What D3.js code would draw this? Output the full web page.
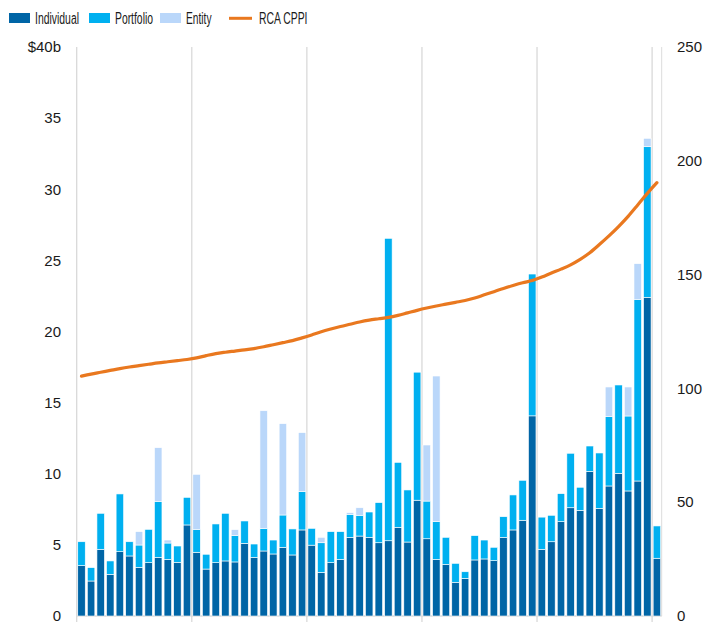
<!DOCTYPE html>
<html>
<head>
<meta charset="utf-8">
<script src="https://cdn.jsdelivr.net/npm/d3@7"></script>
<style>
  body { margin: 0; background: #fff; }
  text { font-family: "Liberation Sans", Arial, sans-serif; fill: #1a1a1a; }
</style>
</head>
<body>
<script>
// monthly deal volume, $b
var months = d3.timeMonths(new Date(2017, 0, 1), new Date(2022, 1, 1)).map(d3.timeFormat('%Y-%m'));

var individual = [3.54, 2.46, 4.69, 2.93, 4.52, 4.22, 3.42, 3.75, 4.12, 3.98, 3.77, 6.40,
                  4.48, 3.30, 3.75, 3.87, 3.80, 5.11, 4.12, 4.57, 4.36, 4.83, 4.29, 6.05,
                  4.98, 3.07, 3.75, 3.98, 5.53, 5.62, 5.53, 5.15, 5.29, 6.23, 5.20, 8.14,
                  5.43, 3.98, 3.63, 2.37, 2.65, 3.94, 4.01, 3.89, 5.53, 6.05, 6.73, 14.07,
                  4.69, 5.22, 6.63, 7.61, 7.43, 10.17, 7.57, 9.14, 10.03, 8.79, 9.49, 22.40,
                  4.06];
var portfolio = [1.68, 0.94, 2.53, 0.94, 4.06, 1.00, 1.57, 2.34, 3.94, 1.15, 1.15, 1.94,
                 1.61, 1.04, 2.72, 3.35, 1.85, 1.57, 0.94, 1.59, 0.98, 2.27, 1.83, 2.70,
                 1.18, 2.08, 2.18, 1.95, 1.62, 1.46, 1.78, 2.82, 21.26, 4.57, 3.66, 9.00,
                 2.65, 2.65, 1.90, 1.33, 0.46, 1.71, 1.33, 0.94, 1.45, 2.46, 2.81, 9.97,
                 2.26, 1.86, 1.97, 3.83, 1.62, 1.78, 3.89, 4.87, 6.21, 5.27, 12.77, 10.59,
                 2.27];
var entity = [0, 0, 0, 0, 0, 0, 0.94, 0, 3.77, 0.21, 0, 0,
              3.87, 0, 0, 0, 0.42, 0, 0, 8.27, 0, 6.42, 0, 4.14,
              0, 0.38, 0, 0, 0.11, 0.53, 0, 0, 0, 0, 0, 0,
              3.94, 10.24, 0, 0, 0, 0, 0, 0, 0, 0, 0, 0,
              0, 0, 0, 0, 0, 0, 0, 2.09, 0, 2.04, 2.51, 0.59,
              0];
// RCA CPPI index (right axis)
var cppi = [105.4, 106.3, 107.1, 107.9, 108.7, 109.4, 110.0, 110.6, 111.2, 111.7, 112.2, 112.7,
            113.4, 114.4, 115.3, 115.9, 116.4, 116.9, 117.5, 118.3, 119.2, 120.1, 121.0, 122.2,
            123.5, 124.9, 126.1, 127.2, 128.2, 129.2, 130.0, 130.6, 131.2, 132.1, 133.2, 134.3,
            135.3, 136.2, 137.0, 137.8, 138.6, 139.7, 141.1, 142.5, 143.9, 145.2, 146.4, 147.4,
            148.9, 150.7, 152.4, 154.3, 156.7, 159.6, 163.2, 167.0, 171.1, 175.6, 180.6, 185.7,
            190.4];

var seriesKeys = ['Individual', 'Portfolio', 'Entity'];
var colors = { Individual: '#0065a6', Portfolio: '#00b0f0', Entity: '#bad7fa' };
var lineColor = '#e9781f';

var leftTicks = [0, 5, 10, 15, 20, 25, 30, 35, 40];
var rightTicks = [0, 50, 100, 150, 200, 250];

var width = 720, height = 624;
var plot = { left: 76.7, right: 661.7, top: 47, bottom: 616 };

var svg = d3.select('body').append('svg')
  .attr('width', width)
  .attr('height', height);

var x = d3.scaleBand()
  .domain(months)
  .range([plot.left, plot.right])
  .paddingInner(0.22)
  .paddingOuter(0.11);

var y = d3.scaleLinear().domain([0, 40]).range([plot.bottom, plot.top]);
var y2 = d3.scaleLinear().domain([0, 250]).range([plot.bottom, plot.top]);

var table = months.map(function(m, i) {
  return { month: m, Individual: individual[i], Portfolio: portfolio[i], Entity: entity[i], cppi: cppi[i] };
});

// year gridlines + frame
var step = x.step();
var yearStarts = months.filter(function(m, i) { return i % 12 === 0; });
svg.append('g').selectAll('line')
  .data(yearStarts)
  .enter().append('line')
  .attr('x1', function(d) { return x(d) - step * x.paddingOuter(); })
  .attr('x2', function(d) { return x(d) - step * x.paddingOuter(); })
  .attr('y1', plot.top)
  .attr('y2', plot.bottom + 6)
  .attr('stroke', '#d9d9d9')
  .attr('stroke-width', 1.3);

svg.append('line')
  .attr('x1', plot.right).attr('x2', plot.right)
  .attr('y1', plot.top).attr('y2', plot.bottom)
  .attr('stroke', '#dcdcdc').attr('stroke-width', 1);

svg.append('line')
  .attr('x1', plot.left).attr('x2', plot.right)
  .attr('y1', plot.bottom).attr('y2', plot.bottom)
  .attr('stroke', '#d9d9d9').attr('stroke-width', 1.3);

// stacked bars
var stacked = d3.stack().keys(seriesKeys)(table);

svg.append('g').selectAll('g')
  .data(stacked)
  .enter().append('g')
  .attr('fill', function(s) { return colors[s.key]; })
  .selectAll('rect')
  .data(function(s) { return s; })
  .enter().append('rect')
  .filter(function(d) { return d[1] - d[0] > 0; })
  .attr('x', function(d) { return x(d.data.month); })
  .attr('width', x.bandwidth())
  .attr('y', function(d) { return y(d[1]); })
  .attr('height', function(d) { return y(d[0]) - y(d[1]); })
  .attr('stroke', '#fff')
  .attr('stroke-width', 0.6);

// CPPI line
var line = d3.line()
  .x(function(d) { return x(d.month) + x.bandwidth() / 2; })
  .y(function(d) { return y2(d.cppi); })
  .curve(d3.curveMonotoneX);

svg.append('path')
  .datum(table)
  .attr('fill', 'none')
  .attr('stroke', lineColor)
  .attr('stroke-width', 3.2)
  .attr('stroke-linecap', 'round')
  .attr('d', line);

// axes labels
svg.append('g').selectAll('text')
  .data(leftTicks)
  .enter().append('text')
  .attr('x', 61)
  .attr('y', function(d) { return y(d); })
  .attr('dy', '0.35em')
  .attr('text-anchor', 'end')
  .style('font-size', '15px')
  .text(function(d) { return d === 40 ? '$40b' : d; });

svg.append('g').selectAll('text')
  .data(rightTicks)
  .enter().append('text')
  .attr('x', 677)
  .attr('y', function(d) { return y2(d); })
  .attr('dy', '0.35em')
  .attr('text-anchor', 'start')
  .style('font-size', '15px')
  .text(function(d) { return d; });

// legend (narrow font in the original, squeeze to fit)
var legendItems = [
  { name: 'Individual', type: 'rect', x: 9, w: 44 },
  { name: 'Portfolio', type: 'rect', x: 89, w: 38 },
  { name: 'Entity', type: 'rect', x: 160, w: 25.5 },
  { name: 'RCA CPPI', type: 'line', x: 229, w: 48.5 }
];
var legend = svg.append('g').attr('class', 'legend');
legendItems.forEach(function(it) {
  if (it.type === 'rect') {
    legend.append('rect')
      .attr('x', it.x).attr('y', 13)
      .attr('width', 21).attr('height', 10)
      .attr('fill', colors[it.name]);
  } else {
    legend.append('line')
      .attr('x1', it.x).attr('x2', it.x + 23)
      .attr('y1', 18.3).attr('y2', 18.3)
      .attr('stroke', lineColor).attr('stroke-width', 3);
  }
  legend.append('text')
    .attr('x', it.x + (it.type === 'rect' ? 26 : 30))
    .attr('y', 24)
    .attr('textLength', it.w)
    .attr('lengthAdjust', 'spacingAndGlyphs')
    .style('font-size', '16px')
    .text(it.name);
});
</script>
</body>
</html>
